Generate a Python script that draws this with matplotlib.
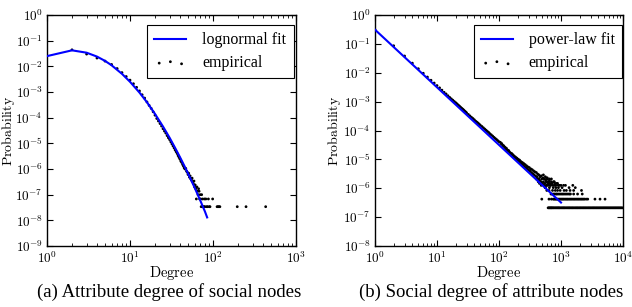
"""Degree distributions: lognormal fit (attribute degree of social nodes)
and power-law fit (social degree of attribute nodes), log-log panels."""
import numpy as np
import matplotlib
matplotlib.use("Agg")
import matplotlib.pyplot as plt
from matplotlib.ticker import FuncFormatter, LogLocator, NullLocator

plt.rcParams["mathtext.fontset"] = "cm"
plt.rcParams["font.family"] = ["Liberation Serif", "DejaVu Serif"]

# ---- panel (a): attribute degree of social nodes -------------------------
FIT_A_DEG = [1, 2, 3, 4, 5, 6, 8, 10, 13, 16, 20, 25, 30, 35, 40, 45, 50,
             60, 70, 80, 85]
FIT_A_P = [0.025, 0.042, 0.034, 0.024, 0.0163, 0.011, 0.0051, 0.0025,
           9.5e-4, 4.0e-4, 1.4e-4, 4.5e-5, 1.65e-5, 6.6e-6, 2.9e-6, 1.36e-6,
           6.7e-7, 1.9e-7, 6.1e-8, 2.2e-8, 1.3e-8]

EMP_A_DEG = [2, 3, 4, 5, 6, 7, 8, 9, 10, 11, 12, 13, 14, 15, 16, 17, 18, 19,
             20, 21, 22, 23, 24, 25, 26, 27, 28, 29, 30, 31, 32, 33, 34, 35,
             36, 37, 38, 39, 40, 41, 42, 43, 44, 45, 46, 47, 48, 49, 50, 51,
             52, 53, 54, 55, 56, 57, 58, 59, 60, 61, 62, 63, 64, 65, 66, 67,
             68, 69, 70, 71, 72, 73, 74, 75, 76, 78, 79, 80, 82, 84, 86, 88,
             90, 92, 99, 112, 115, 118, 121, 196, 250, 431]
EMP_A_P = [0.044, 0.030, 0.021, 0.016, 0.0118, 0.0082, 0.0057, 0.0040,
           0.0029, 0.0021, 0.00152, 0.0011, 7.8e-4, 5.8e-4, 4.1e-4, 3.0e-4,
           2.3e-4, 1.7e-4, 1.25e-4, 9.3e-5, 7.4e-5, 5.9e-5, 4.7e-5, 3.7e-5,
           3.0e-5, 2.5e-5, 2.0e-5, 1.65e-5, 1.4e-5, 1.15e-5, 9.5e-6, 7.9e-6,
           6.6e-6, 5.5e-6, 4.7e-6, 4.0e-6, 3.3e-6, 2.8e-6, 2.4e-6, 2.0e-6,
           1.8e-6, 1.5e-6, 1.3e-6, 1.1e-6, 1.0e-6, 1.05e-6, 8.2e-7, 7.5e-7,
           6.1e-7, 6.8e-7, 4.8e-7, 5.4e-7, 4.1e-7, 3.7e-7, 4.4e-7, 3.1e-7,
           2.7e-7, 3.4e-7, 2.0e-7, 2.4e-7, 1.7e-7, 6.8e-8, 2.0e-7, 1.36e-7,
           1.0e-7, 1.7e-7, 1.36e-7, 6.8e-8, 1.0e-7, 6.8e-8, 3.4e-8, 1.0e-7,
           3.4e-8, 6.8e-8, 3.4e-8, 3.4e-8, 6.8e-8, 3.4e-8, 6.8e-8, 3.4e-8,
           3.4e-8, 6.8e-8, 3.4e-8, 3.4e-8, 6.8e-8, 3.4e-8, 3.4e-8, 3.4e-8,
           3.4e-8, 3.4e-8, 3.4e-8, 3.4e-8]

# ---- panel (b): social degree of attribute nodes -------------------------
FIT_B_DEG = [1, 1000]
FIT_B_P = [0.31, 3.2e-7]

EMP_B_DEG = [1, 2, 3, 4, 5, 6, 7, 8, 9, 10, 11, 12, 13, 14, 15, 16, 17, 18,
             19, 20, 21, 22, 23, 24, 25, 26, 27, 28, 29, 30, 32, 34, 36, 38,
             40, 42, 44, 46, 48, 50, 53, 56, 59, 62, 65, 68, 71, 75, 79, 83,
             87, 91, 95, 100, 105, 108, 111, 114, 117, 120, 123, 126, 129,
             132, 135, 138, 141, 144, 148, 152, 156, 160, 164, 168, 172, 176,
             180, 185, 190, 195, 200, 205, 210, 215, 220, 226, 232, 238, 244,
             250, 257, 264, 271, 278, 285, 292, 300, 308, 316, 325, 334, 343,
             352, 361, 370, 380, 390, 400, 410, 420, 430, 440, 450, 460, 470,
             480, 495, 510, 520, 525, 540, 555, 560, 570, 585, 600, 600, 630,
             650, 670, 700, 710, 760, 790, 850, 950, 1100, 1550]
EMP_B_P = [0.31, 0.086, 0.038, 0.0215, 0.0138, 0.0096, 0.0071, 0.0055,
           0.0044, 0.0036, 0.0030, 0.0025, 0.0021, 0.00185, 0.0016, 0.0014,
           0.00125, 0.00112, 0.00101, 9.2e-4, 8.4e-4, 7.6e-4, 7.0e-4, 6.4e-4,
           5.9e-4, 5.5e-4, 5.1e-4, 4.7e-4, 4.4e-4, 4.1e-4, 3.6e-4, 3.2e-4,
           2.85e-4, 2.6e-4, 2.35e-4, 2.1e-4, 1.95e-4, 1.8e-4, 1.65e-4,
           1.52e-4, 1.38e-4, 1.24e-4, 1.12e-4, 1.02e-4, 9.3e-5, 8.6e-5,
           7.8e-5, 7.1e-5, 6.4e-5, 5.8e-5, 5.3e-5, 4.9e-5, 4.5e-5, 4.1e-5,
           3.9e-5, 3.5e-5, 3.5e-5, 3.1e-5, 3.0e-5, 2.9e-5, 2.6e-5, 2.6e-5,
           2.3e-5, 2.4e-5, 2.1e-5, 2.1e-5, 1.9e-5, 2.0e-5, 1.75e-5, 1.7e-5,
           1.55e-5, 1.6e-5, 1.4e-5, 1.45e-5, 1.25e-5, 1.3e-5, 1.15e-5,
           1.2e-5, 1.05e-5, 1.1e-5, 9.3e-6, 1.0e-5, 8.5e-6, 9.4e-6, 7.6e-6,
           8.4e-6, 6.9e-6, 7.8e-6, 6.2e-6, 7.2e-6, 5.6e-6, 6.6e-6, 5.1e-6,
           6.0e-6, 4.6e-6, 5.5e-6, 4.3e-6, 5.2e-6, 3.9e-6, 4.7e-6, 3.5e-6,
           4.4e-6, 3.2e-6, 4.0e-6, 2.9e-6, 3.7e-6, 2.6e-6, 3.5e-6, 2.5e-6,
           3.1e-6, 2.1e-6, 2.9e-6, 1.9e-6, 2.5e-6, 1.7e-6, 2.7e-6, 1.5e-6,
           2.3e-6, 2.9e-6, 1.26e-6, 2.1e-6, 1.05e-6, 2.5e-6, 1.9e-6, 1.26e-6,
           1.68e-6, 2.3e-6, 1.47e-6, 1.9e-6, 1.26e-6, 2.1e-6, 1.47e-6,
           1.68e-6, 1.26e-6, 1.47e-6, 1.26e-6, 1.26e-6, 1.26e-6]

# tail of panel (b): degrees seen only a few times (probability levels)
B_LEVEL_P = [2.1e-7, 4.2e-7, 6.3e-7, 8.4e-7, 1.05e-6, 1.26e-6, 1.47e-6,
             1.68e-6, 2.1e-6]
B_LEVEL_DEG = [
    [620, 640, 660, 680, 700, 720, 745, 770, 800, 830, 860, 890, 920, 950,
     990, 1030, 1070, 1110, 1150, 1200, 1250, 1300, 1350, 1400, 1460, 1520,
     1580, 1650, 1720, 1790, 1860, 1940, 2020, 2100, 2190, 2280, 2370, 2470,
     2570, 2680, 2790, 2900, 3020, 3150, 3280, 3410, 3550, 3700, 3850, 4010,
     4180, 4350, 4530, 4720, 4910, 5110, 5320, 5540, 5770, 6010, 6260, 6520,
     6790, 7070, 7360, 7660, 7980, 8310, 8650, 9010, 9380, 9770],
    [490, 640, 700, 750, 780, 810, 840, 870, 900, 940, 980, 1020, 1060, 1100,
     1150, 1200, 1250, 1300, 1360, 1420, 1480, 1550, 1620, 1690, 1770, 1850,
     1930, 2020, 2110, 2200, 2300, 2400, 2550, 2700, 3530, 4260, 5130],
    [690, 720, 760, 790, 830, 860, 900, 950, 1000, 1050, 1100, 1160, 1220,
     1290, 1360, 1420, 1600, 1850, 2200],
    [590, 640, 730, 810, 880, 970, 1120, 1220, 1400, 1600, 2140],
    [560, 650, 750, 830, 910, 1040, 1350, 1700],
    [480, 530, 580, 620, 680, 740, 820, 900, 1000, 1180],
    [450, 500, 545, 610, 660, 720, 800, 880],
    [430, 470, 520, 575, 640, 700, 780],
    [400, 440, 490, 540, 600, 650],
]


def _pow10(v, _):
    return r"$10^{%d}$" % int(round(np.log10(v)))


def _style(ax, xmax, ymin, ylab_x):
    ax.set_xscale("log")
    ax.set_yscale("log")
    ax.set_xlim(1, xmax)
    ax.set_ylim(ymin, 1)
    ax.xaxis.set_major_locator(LogLocator(base=10, numticks=15))
    ax.xaxis.set_minor_locator(LogLocator(base=10, subs=np.arange(2, 10),
                                          numticks=15))
    ax.yaxis.set_major_locator(LogLocator(base=10, numticks=15))
    ax.yaxis.set_minor_locator(NullLocator())
    ax.xaxis.set_major_formatter(FuncFormatter(_pow10))
    ax.yaxis.set_major_formatter(FuncFormatter(_pow10))
    ax.tick_params(which="both", direction="in", top=True, right=True,
                   labelsize=9.5, pad=3)
    ax.tick_params(which="major", length=4.5, width=0.8)
    ax.tick_params(which="minor", length=2.2, width=0.6)
    for sp in ax.spines.values():
        sp.set_linewidth(1.0)
    ax.set_xlabel(r"$\mathrm{Degree}$", fontsize=10.5)
    ax.set_ylabel(r"$\mathrm{Probability}$", fontsize=10)
    ax.xaxis.set_label_coords(0.5, -0.08)
    ax.yaxis.set_label_coords(ylab_x, 0.5)


def _legend(ax, right):
    leg = ax.legend(loc="upper right", bbox_to_anchor=(right, 0.957),
                    borderaxespad=0, fontsize=11.5, fancybox=False,
                    framealpha=1, edgecolor="black", scatterpoints=3,
                    scatteryoffsets=[0.375, 0.5, 0.3125], handlelength=2.0,
                    borderpad=0.45, labelspacing=0.45, handletextpad=1.0)
    leg.get_frame().set_linewidth(0.8)


def main():
    fig = plt.figure(figsize=(6.32, 3.07), dpi=100)
    ax_a = fig.add_axes([47 / 632, 1 - 246 / 307, 249 / 632, 231 / 307])
    ax_b = fig.add_axes([375 / 632, 1 - 246 / 307, 248 / 632, 231 / 307])

    ax_a.plot(FIT_A_DEG, FIT_A_P, color="#0000ff", lw=1.5,
              label="lognormal fit", zorder=3)
    ax_a.scatter(EMP_A_DEG, EMP_A_P, s=4, c="k", edgecolors="none",
                 label="empirical", zorder=2)
    _style(ax_a, 1e3, 1e-9, -0.12)
    _legend(ax_a, 0.99)

    ax_b.plot(FIT_B_DEG, FIT_B_P, color="#0000ff", lw=1.5,
              label="power-law fit", zorder=3)
    tail_x = [d for lvl in B_LEVEL_DEG for d in lvl]
    tail_y = [p for lvl, p in zip(B_LEVEL_DEG, B_LEVEL_P) for _ in lvl]
    ax_b.scatter(EMP_B_DEG + tail_x, EMP_B_P + tail_y, s=4, c="k",
                 edgecolors="none", label="empirical", zorder=2)
    _style(ax_b, 1e4, 1e-8, -0.128)
    _legend(ax_b, 0.996)

    fig.text(169 / 632, 1 - 292 / 307, "(a) Attribute degree of social nodes",
             ha="center", va="center", fontsize=13.5)
    fig.text(491 / 632, 1 - 292 / 307, "(b) Social degree of attribute nodes",
             ha="center", va="center", fontsize=13.5)

    fig.savefig("out.png", dpi=100)


if __name__ == "__main__":
    main()
